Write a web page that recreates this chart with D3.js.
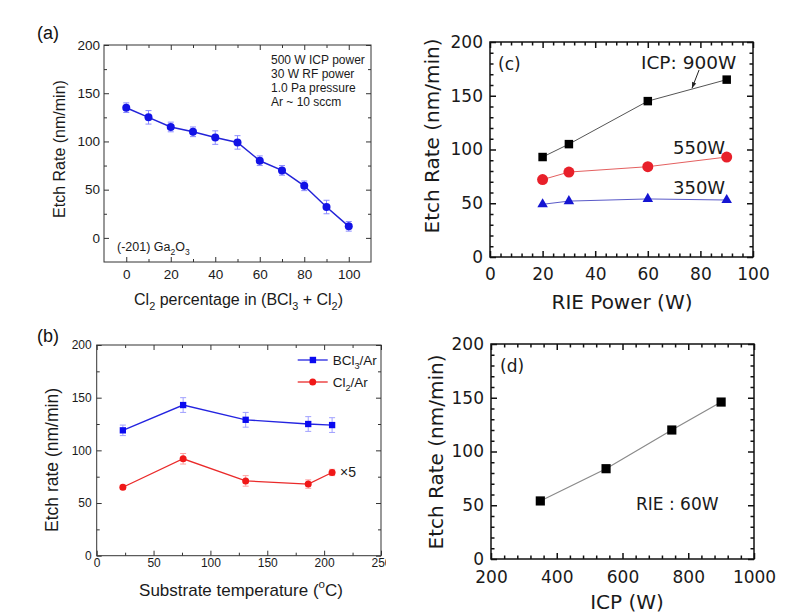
<!DOCTYPE html>
<html>
<head>
<meta charset="utf-8">
<script src="https://cdn.jsdelivr.net/npm/d3@7"></script>
<style>
  body { margin: 0; background: #fff; }
</style>
</head>
<body>
<div id="chart"></div>
<script>
// (a) etch rate vs Cl2 percentage
const clPercent = [0, 10, 20, 30, 40, 50, 60, 70, 80, 90, 100];
const etchA = [135, 125, 115, 110, 104, 99, 80, 70, 54, 32, 12];
const errA = [5, 7, 5, 5, 7, 7, 5, 5, 5, 7, 5];

// (b) etch rate vs substrate temperature
const substrateTemp = [23, 76, 131, 186, 207];
const bcl3Rate = [119, 143, 129, 125, 124];
const bcl3Err = [5, 7, 7, 7, 7];
const cl2Rate = [65, 92, 71, 68, 79];
const cl2Err = [2, 5, 5, 4, 3];

// (c) etch rate vs RIE power, three ICP powers
const riePower = [20, 30, 60, 90];
const icp900 = [93, 105, 145, 165];
const icp550 = [72, 79, 84, 93];
const icp350 = [49, 52, 54, 53];

// (d) etch rate vs ICP power at RIE 60 W
const icpPower = [350, 550, 750, 900];
const etchD = [54, 84, 120, 146];

// tick labels
const ticksAx = [0, 20, 40, 60, 80, 100];
const ticksAy = [0, 50, 100, 150, 200];
const ticksBx = [0, 50, 100, 150, 200, 250];
const ticksBy = [0, 50, 100, 150, 200];
const ticksCx = [0, 20, 40, 60, 80, 100];
const ticksCy = [0, 50, 100, 150, 200];
const ticksDx = [200, 400, 600, 800, 1000];
const ticksDy = [0, 50, 100, 150, 200];

const notesA = ["500 W ICP power", "30 W RF power", "1.0 Pa pressure", "Ar ~ 10 sccm"];

const FONT_A = "'Liberation Sans', Arial, sans-serif";
const FONT_C = "'DejaVu Sans', sans-serif";

const svg = d3.select("#chart").append("svg")
  .attr("width", 805).attr("height", 616);

// text with sub/superscript parts: [text, "sub"|"sup"|undefined]
function rich(sel, parts, fs) {
  let shift = 0;
  parts.forEach(([t, kind]) => {
    const target = kind === "sub" ? fs * 0.3 : kind === "sup" ? -fs * 0.45 : 0;
    sel.append("tspan")
      .attr("dy", target - shift)
      .attr("font-size", kind ? fs * 0.68 : fs)
      .text(t);
    shift = target;
  });
  return sel;
}

function panel(p) {
  const w = p.right - p.left, h = p.bottom - p.top;
  const g = svg.append("g").attr("transform", `translate(${p.left},${p.top})`);
  const x = d3.scaleLinear().domain(p.xd).range([0, w]);
  const y = d3.scaleLinear().domain(p.yd).range([h, 0]);

  const axes = [
    [d3.axisBottom(x), `translate(0,${h})`, p.xt, p.xm, true, p.padX],
    [d3.axisTop(x), null, p.xt, p.xm, false, 0],
    [d3.axisLeft(y), null, p.yt, p.ym, true, p.padY],
    [d3.axisRight(y), `translate(${w},0)`, p.yt, p.ym, false, 0]
  ];
  axes.forEach(([ax, tr, major, minor, labels, pad]) => {
    const gm = g.append("g").attr("transform", tr)
      .call(ax.tickValues(minor).tickSize(-p.minor).tickFormat(""));
    const gM = g.append("g").attr("transform", tr)
      .call(ax.tickValues(major).tickSize(-p.major).tickPadding(pad)
        .tickFormat(labels ? d3.format("d") : ""));
    [gm, gM].forEach(a => {
      a.select(".domain").remove();
      a.selectAll("line").attr("stroke", p.color).attr("stroke-width", p.stroke);
      a.attr("font-family", p.font).attr("font-size", p.fs);
      a.selectAll("text").attr("fill", "#1a1a1a");
    });
  });

  g.append("rect").attr("width", w).attr("height", h)
    .attr("fill", "none").attr("stroke", p.color).attr("stroke-width", p.stroke);

  return { g, x, y, w, h };
}

function errorBars(g, x, y, xs, ys, es, color, cap) {
  const eb = g.append("g").attr("stroke", color).attr("stroke-width", 1);
  xs.forEach((xv, i) => {
    const cx = x(xv), y0 = y(ys[i] - es[i]), y1 = y(ys[i] + es[i]);
    eb.append("line").attr("x1", cx).attr("x2", cx).attr("y1", y0).attr("y2", y1);
    eb.append("line").attr("x1", cx - cap).attr("x2", cx + cap).attr("y1", y0).attr("y2", y0);
    eb.append("line").attr("x1", cx - cap).attr("x2", cx + cap).attr("y1", y1).attr("y2", y1);
  });
}

function series(g, x, y, xs, ys, lineColor, lw) {
  const pts = xs.map((v, i) => [v, ys[i]]);
  g.append("path").datum(pts)
    .attr("fill", "none").attr("stroke", lineColor).attr("stroke-width", lw)
    .attr("d", d3.line().x(d => x(d[0])).y(d => y(d[1])));
  return pts;
}

function symbols(g, x, y, pts, type, size, fill) {
  g.selectAll(null).data(pts).enter().append("path")
    .attr("transform", d => `translate(${x(d[0])},${y(d[1])})`)
    .attr("d", d3.symbol().type(type).size(size))
    .attr("fill", fill);
}

// ---------- (a) ----------
(function () {
  const { g, x, y } = panel({
    left: 104, top: 45, right: 371, bottom: 262,
    xd: [-10, 110], yd: [-25, 200],
    xt: ticksAx, xm: [10, 30, 50, 70, 90],
    yt: ticksAy, ym: [25, 75, 125, 175],
    font: FONT_A, fs: 13.5, major: 5, minor: 3, padX: 7, padY: 4,
    stroke: 1, color: "#333"
  });
  errorBars(g, x, y, clPercent, etchA, errA, "#8c8cff", 3);
  const pts = series(g, x, y, clPercent, etchA, "#2323d8", 1.5);
  g.selectAll(null).data(pts).enter().append("circle")
    .attr("cx", d => x(d[0])).attr("cy", d => y(d[1])).attr("r", 4)
    .attr("fill", "#1212e6");

  g.selectAll(null).data(notesA).enter().append("text")
    .attr("x", 167).attr("y", (d, i) => 18.5 + i * 14.3)
    .attr("font-family", FONT_A).attr("font-size", 12).attr("fill", "#1a1a1a")
    .text(d => d);

  rich(g.append("text").attr("x", 13).attr("y", 206)
    .attr("font-family", FONT_A).attr("font-size", 12.5).attr("fill", "#1a1a1a"),
    [["(-201) Ga"], ["2", "sub"], ["O"], ["3", "sub"]], 12.5);

  svg.append("text").attr("x", 37).attr("y", 39)
    .attr("font-family", FONT_A).attr("font-size", 18).attr("fill", "#111").text("(a)");
  svg.append("text").attr("transform", "translate(65,149) rotate(-90)")
    .attr("text-anchor", "middle").attr("font-family", FONT_A).attr("font-size", 16)
    .attr("fill", "#1a1a1a").text("Etch Rate (nm/min)");
  rich(svg.append("text").attr("x", 238.5).attr("y", 305).attr("text-anchor", "middle")
    .attr("font-family", FONT_A).attr("font-size", 16).attr("fill", "#1a1a1a"),
    [["Cl"], ["2", "sub"], [" percentage in (BCl"], ["3", "sub"], [" + Cl"], ["2", "sub"], [")"]], 16);
})();

// ---------- (b) ----------
(function () {
  svg.append("clipPath").attr("id", "clipB").append("rect")
    .attr("x", 0).attr("y", 300).attr("width", 386).attr("height", 316);
  const wrap = svg.append("g").attr("clip-path", "url(#clipB)");
  const p = {
    left: 96.7, top: 345, right: 381, bottom: 555.7,
    xd: [0, 250], yd: [0, 200],
    xt: ticksBx, xm: [25, 75, 125, 175, 225],
    yt: ticksBy, ym: [25, 75, 125, 175],
    font: FONT_A, fs: 12, major: 5, minor: 3, padX: 2.5, padY: 5,
    stroke: 1, color: "#333"
  };
  const { g, x, y } = panel(p);
  wrap.node().appendChild(g.node());

  errorBars(g, x, y, substrateTemp, bcl3Rate, bcl3Err, "#a0a0ff", 3);
  errorBars(g, x, y, substrateTemp, cl2Rate, cl2Err, "#ffa0a0", 3);
  const bPts = series(g, x, y, substrateTemp, bcl3Rate, "#2424e0", 1.3);
  const rPts = series(g, x, y, substrateTemp, cl2Rate, "#ea2a2a", 1.3);
  symbols(g, x, y, bPts, d3.symbolSquare, 40, "#0a0af0");
  g.selectAll(null).data(rPts).enter().append("circle")
    .attr("cx", d => x(d[0])).attr("cy", d => y(d[1])).attr("r", 3.5)
    .attr("fill", "#f01818");

  // legend
  const legend = [
    { label: [["BCl"], ["3", "sub"], ["/Ar"]], color: "#2424e0", mark: "square" },
    { label: [["Cl"], ["2", "sub"], ["/Ar"]], color: "#ea2a2a", mark: "circle" }
  ];
  legend.forEach((d, i) => {
    const ly = 15 + i * 22;
    g.append("line").attr("x1", 201).attr("x2", 231).attr("y1", ly).attr("y2", ly)
      .attr("stroke", d.color).attr("stroke-width", 1.3);
    if (d.mark === "square") {
      g.append("rect").attr("x", 213).attr("y", ly - 3.2).attr("width", 6.4).attr("height", 6.4)
        .attr("fill", "#0a0af0");
    } else {
      g.append("circle").attr("cx", 216).attr("cy", ly).attr("r", 3.5).attr("fill", "#f01818");
    }
    rich(g.append("text").attr("x", 236).attr("y", ly + 5)
      .attr("font-family", FONT_A).attr("font-size", 13.5).attr("fill", "#1a1a1a"),
      d.label, 13.5);
  });

  g.append("text").attr("x", x(214)).attr("y", y(79) + 5)
    .attr("font-family", FONT_A).attr("font-size", 14).attr("fill", "#1a1a1a").text("\u00d75");

  svg.append("text").attr("x", 37).attr("y", 342)
    .attr("font-family", FONT_A).attr("font-size", 18).attr("fill", "#111").text("(b)");
  svg.append("text").attr("transform", "translate(58,460) rotate(-90)")
    .attr("text-anchor", "middle").attr("font-family", FONT_A).attr("font-size", 17.5)
    .attr("fill", "#1a1a1a").text("Etch rate (nm/min)");
  rich(svg.append("text").attr("x", 241).attr("y", 596).attr("text-anchor", "middle")
    .attr("font-family", FONT_A).attr("font-size", 17).attr("fill", "#1a1a1a"),
    [["Substrate temperature ("], ["o", "sup"], ["C)"]], 17);
})();

// ---------- (c) ----------
(function () {
  const { g, x, y } = panel({
    left: 490, top: 42, right: 753, bottom: 257,
    xd: [0, 100], yd: [0, 200],
    xt: ticksCx, xm: d3.range(0, 101, 4).filter(v => v % 20),
    yt: ticksCy, ym: d3.range(0, 201, 10).filter(v => v % 50),
    font: FONT_C, fs: 17, major: 6, minor: 3.5, padX: 11, padY: 7,
    stroke: 1.5, color: "#111"
  });
  const kPts = series(g, x, y, riePower, icp900, "#555", 1);
  const rPts = series(g, x, y, riePower, icp550, "#e46060", 1);
  const bPts = series(g, x, y, riePower, icp350, "#5a5ac8", 1);
  symbols(g, x, y, kPts, d3.symbolSquare, 72, "#000");
  g.selectAll(null).data(rPts).enter().append("circle")
    .attr("cx", d => x(d[0])).attr("cy", d => y(d[1])).attr("r", 5.5)
    .attr("fill", "#e8202a");
  symbols(g, x, y, bPts, d3.symbolTriangle, 48, "#1515d2");

  const t = g.append("g").attr("font-family", FONT_C).attr("fill", "#1a1a1a");
  t.append("text").attr("x", 151).attr("y", 26.5).attr("font-size", 18.5).text("ICP: 900W");
  t.append("text").attr("x", 183).attr("y", 112).attr("font-size", 18).text("550W");
  t.append("text").attr("x", 183).attr("y", 152).attr("font-size", 18).text("350W");
  t.append("text").attr("x", 8).attr("y", 28).attr("font-size", 17).text("(c)");

  // arrow from label to the 900 W curve
  const from = [79.5, 174], to = [76.8, 157];
  g.append("line").attr("x1", x(from[0])).attr("y1", y(from[1]))
    .attr("x2", x(to[0])).attr("y2", y(to[1])).attr("stroke", "#222").attr("stroke-width", 1);
  const ang = Math.atan2(y(to[1]) - y(from[1]), x(to[0]) - x(from[0])) * 180 / Math.PI;
  g.append("path").attr("d", "M0,0L-6,-2.2L-6,2.2Z").attr("fill", "#222")
    .attr("transform", `translate(${x(to[0])},${y(to[1])}) rotate(${ang})`);

  svg.append("text").attr("transform", "translate(439,136) rotate(-90)")
    .attr("text-anchor", "middle").attr("font-family", FONT_C).attr("font-size", 20)
    .attr("fill", "#1a1a1a").text("Etch Rate (nm/min)");
  svg.append("text").attr("x", 622).attr("y", 309).attr("text-anchor", "middle")
    .attr("font-family", FONT_C).attr("font-size", 20).attr("fill", "#1a1a1a").text("RIE Power (W)");
})();

// ---------- (d) ----------
(function () {
  const { g, x, y } = panel({
    left: 491, top: 344, right: 754, bottom: 559,
    xd: [200, 1000], yd: [0, 200],
    xt: ticksDx, xm: d3.range(200, 1001, 40).filter(v => v % 200),
    yt: ticksDy, ym: d3.range(0, 201, 10).filter(v => v % 50),
    font: FONT_C, fs: 17, major: 6, minor: 3.5, padX: 12, padY: 7,
    stroke: 1.5, color: "#111"
  });
  const pts = series(g, x, y, icpPower, etchD, "#8a8a8a", 1.2);
  symbols(g, x, y, pts, d3.symbolSquare, 84, "#000");

  const t = g.append("g").attr("font-family", FONT_C).attr("fill", "#1a1a1a");
  t.append("text").attr("x", 145).attr("y", 166).attr("font-size", 17).text("RIE : 60W");
  t.append("text").attr("x", 9).attr("y", 28).attr("font-size", 17).text("(d)");

  svg.append("text").attr("transform", "translate(443,452) rotate(-90)")
    .attr("text-anchor", "middle").attr("font-family", FONT_C).attr("font-size", 20)
    .attr("fill", "#1a1a1a").text("Etch Rate (nm/min)");
  svg.append("text").attr("x", 627).attr("y", 609).attr("text-anchor", "middle")
    .attr("font-family", FONT_C).attr("font-size", 20).attr("fill", "#1a1a1a").text("ICP (W)");
})();
</script>
</body>
</html>
